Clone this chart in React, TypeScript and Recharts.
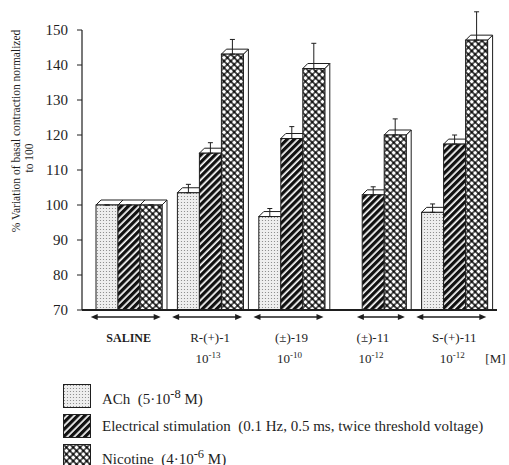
import React from "react";
import { BarChart, Bar, XAxis, YAxis, ErrorBar } from "recharts";

const categories = ["SALINE", "R-(+)-1", "(±)-19", "(±)-11", "S-(+)-11"];
const concExponents = ["", "-13", "-10", "-12", "-12"];

const achValues = [100, 103.5, 96.7, null, 97.9];
const achErrors = [0, 2.4, 2.3, null, 2.4];
const elecValues = [100, 114.8, 119, 102.9, 117.4];
const elecErrors = [0, 3.0, 3.4, 2.3, 2.6];
const nicValues = [100, 143.1, 139, 120, 147.1];
const nicErrors = [0, 4.2, 7.2, 4.6, 8.1];

const yTicks = [70, 80, 90, 100, 110, 120, 130, 140, 150];

const data = categories.map((name, i) => ({
  name,
  conc: concExponents[i],
  ach: achValues[i],
  achErr: achErrors[i] == null ? null : [0, achErrors[i]],
  elec: elecValues[i],
  elecErr: [0, elecErrors[i]],
  nic: nicValues[i],
  nicErr: [0, nicErrors[i]],
}));

const seriesKeys = ["ach", "elec", "nic"];

const FONT = '"Liberation Serif", "Times New Roman", serif';
const INK = "#1e1e1e";
const BAR_SIZE = 22;
const DEPTH = 5;

// 3D-ish bar: front face with pattern, white top and right side
const Bar3D = (props: any) => {
  const { x, y, width, height, fill } = props;
  if (!isFinite(height) || height <= 0) return null;
  const d = DEPTH;
  const top = `${x},${y} ${x + d},${y - d} ${x + width + d},${y - d} ${x + width},${y}`;
  const side = `${x + width},${y} ${x + width + d},${y - d} ${x + width + d},${y + height} ${x + width},${y + height}`;
  return (
    <g>
      <polygon points={side} fill="#fff" stroke={INK} strokeWidth={1} />
      <polygon points={top} fill="#fff" stroke={INK} strokeWidth={1} />
      <rect x={x} y={y} width={width} height={height} fill={fill} stroke={INK} strokeWidth={1} />
    </g>
  );
};

const CategoryTick = (props: any) => {
  const { x, y, payload, index } = props;
  const row = data[index] as any;
  const present = seriesKeys
    .map((k, i) => (row && row[k] != null ? i : -1))
    .filter((i) => i >= 0);
  const groupLeft = x - (BAR_SIZE * seriesKeys.length) / 2;
  const x1 = groupLeft + present[0] * BAR_SIZE - 5;
  const x2 = groupLeft + (present[present.length - 1] + 1) * BAR_SIZE - 1;
  const ay = y + 7;
  const exp = row ? row.conc : "";
  return (
    <g fontFamily={FONT} fill={INK}>
      <line x1={x1 + 5} y1={ay} x2={x2 - 5} y2={ay} stroke={INK} strokeWidth={1.3} />
      <polygon points={`${x1},${ay} ${x1 + 7},${ay - 3} ${x1 + 7},${ay + 3}`} fill={INK} />
      <polygon points={`${x2},${ay} ${x2 - 7},${ay - 3} ${x2 - 7},${ay + 3}`} fill={INK} />
      <text
        x={x}
        y={y + 32}
        textAnchor="middle"
        fontSize={index === 0 ? 12 : 13}
        fontWeight={index === 0 ? "bold" : "normal"}
      >
        {payload.value}
      </text>
      {exp ? (
        <text x={x - 2} y={y + 53} textAnchor="middle" fontSize={13}>
          10
          <tspan dy={-5} fontSize={9}>
            {exp}
          </tspan>
        </text>
      ) : null}
      {index === categories.length - 1 ? (
        <text x={x + 31} y={y + 53} fontSize={13}>
          [M]
        </text>
      ) : null}
    </g>
  );
};

const YLabel = () => (
  <g fontFamily={FONT} fill={INK} fontSize={11.5}>
    <text x={16} y={131} transform="rotate(-90, 16, 131)" textAnchor="middle" dominantBaseline="central">
      % Variation of basal contraction normalized
    </text>
    <text x={29} y={158} transform="rotate(-90, 29, 158)" textAnchor="middle" dominantBaseline="central">
      to 100
    </text>
  </g>
);

const legendItems = [
  { fill: "url(#dots)", label: <>ACh&nbsp;&nbsp;(5·10<sup>-8</sup> M)</> },
  {
    fill: "url(#stripes)",
    label: <>Electrical stimulation&nbsp;&nbsp;(0.1 Hz, 0.5 ms, twice threshold voltage)</>,
  },
  { fill: "url(#cross)", label: <>Nicotine&nbsp;&nbsp;(4·10<sup>-6</sup> M)</> },
];

const PatternLegend = () => (
  <div style={{ position: "absolute", left: 63, top: 381, fontFamily: FONT, fontSize: 15, color: INK }}>
    {legendItems.map((it, i) => (
      <div key={i} style={{ display: "flex", alignItems: "center", height: 30 }}>
        <svg width={28} height={24} style={{ flex: "none" }}>
          <rect x={0.5} y={0.5} width={27} height={23} fill={it.fill} stroke={INK} strokeWidth={1} />
        </svg>
        <span style={{ marginLeft: 11, whiteSpace: "nowrap", lineHeight: "18px" }}>{it.label}</span>
      </div>
    ))}
  </div>
);

export default function App() {
  return (
    <div style={{ position: "absolute", left: 0, top: 0, width: 509, height: 465, background: "#fff", overflow: "hidden" }}>
      <BarChart
        width={509}
        height={465}
        data={data}
        margin={{ top: 30, right: 12, bottom: 95, left: 0 }}
        barSize={BAR_SIZE}
        barGap={0}
      >
        <defs>
          <pattern id="dots" patternUnits="userSpaceOnUse" width={3} height={3}>
            <rect width={3} height={3} fill="#eeeeee" />
            <circle cx={1.5} cy={1.5} r={0.6} fill="#808080" />
          </pattern>
          <pattern id="stripes" patternUnits="userSpaceOnUse" width={5} height={5} patternTransform="rotate(45)">
            <rect width={5} height={5} fill="#111" />
            <rect x={3.3} width={1.7} height={5} fill="#fff" />
          </pattern>
          <pattern id="cross" patternUnits="userSpaceOnUse" width={4.8} height={4.8} patternTransform="rotate(45)">
            <rect width={4.8} height={4.8} fill="#111" />
            <rect x={0.6} y={0.6} width={3.6} height={3.6} rx={1.2} fill="#fff" />
          </pattern>
        </defs>
        <XAxis
          dataKey="name"
          height={60}
          padding={{ left: 6, right: 2 }}
          axisLine={{ stroke: INK, strokeWidth: 2 }}
          tickLine={false}
          tickSize={0}
          tickMargin={0}
          interval={0}
          tick={<CategoryTick />}
        />
        <YAxis
          width={82}
          domain={[70, 150]}
          ticks={yTicks}
          allowDataOverflow
          axisLine={{ stroke: INK, strokeWidth: 1.2 }}
          tickLine={{ stroke: INK }}
          tickSize={5}
          tickMargin={9}
          tick={{ fill: INK, fontSize: 15, fontFamily: FONT }}
          label={<YLabel />}
        />
        <Bar dataKey="ach" fill="url(#dots)" shape={<Bar3D />} isAnimationActive={false}>
          <ErrorBar dataKey="achErr" direction="y" width={2.5} stroke={INK} strokeWidth={1} />
        </Bar>
        <Bar dataKey="elec" fill="url(#stripes)" shape={<Bar3D />} isAnimationActive={false}>
          <ErrorBar dataKey="elecErr" direction="y" width={2.5} stroke={INK} strokeWidth={1} />
        </Bar>
        <Bar dataKey="nic" fill="url(#cross)" shape={<Bar3D />} isAnimationActive={false}>
          <ErrorBar dataKey="nicErr" direction="y" width={2.5} stroke={INK} strokeWidth={1} />
        </Bar>
      </BarChart>
      <PatternLegend />
    </div>
  );
}
